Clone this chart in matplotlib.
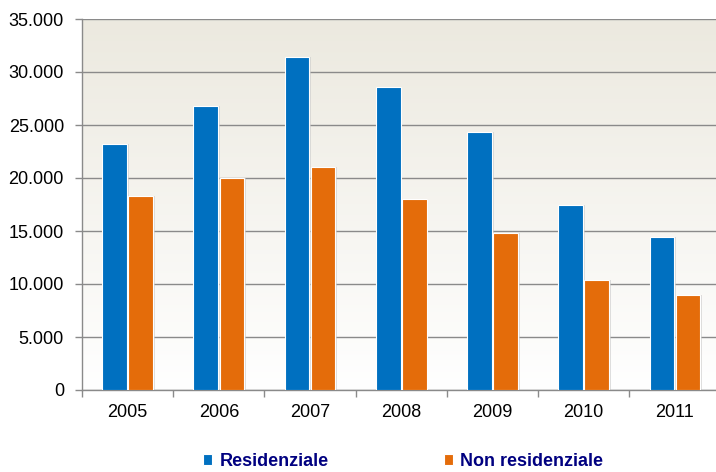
import numpy as np
import matplotlib
matplotlib.use("Agg")
import matplotlib.pyplot as plt
from matplotlib.ticker import FuncFormatter

plt.rcParams['font.family'] = ['Liberation Sans', 'DejaVu Sans']

# dati
anni = ['2005', '2006', '2007', '2008', '2009', '2010', '2011']
residenziale = [23200, 26800, 31400, 28600, 24300, 17500, 14400]
non_residenziale = [18300, 20000, 21000, 18000, 14800, 10400, 9000]

blu = '#0070C0'
arancio = '#E46C0A'

fig = plt.figure(figsize=(7.16, 4.72), dpi=100)
ax = fig.add_axes([82 / 716, 1 - 390 / 472, 1 - 82 / 716, (390 - 19) / 472])

x = np.arange(len(anni))
w = 0.27
off = 0.143

# sfondo sfumato (alto beige -> basso bianco)
grad = np.linspace(0, 1, 256).reshape(-1, 1)
top = np.array([0.925, 0.914, 0.875])
bot = np.array([1.0, 1.0, 1.0])
img = top[None, None, :] * (1 - grad[:, :, None]) + bot[None, None, :] * grad[:, :, None]
ax.imshow(img, extent=[-0.5, 6.45, 0, 35000], origin='upper', aspect='auto', zorder=0)

ax.set_yticks(np.arange(0, 35001, 5000))
ax.yaxis.grid(True, color='#8a8a8a', linewidth=1.0, zorder=1)
ax.set_axisbelow(True)

# ombre
ax.bar(x - off + 0.02, residenziale, w, color='#c8c8c8', alpha=0.6, zorder=2)
ax.bar(x + off + 0.02, non_residenziale, w, color='#c8c8c8', alpha=0.6, zorder=2)
ax.bar(x - off, residenziale, w, color=blu, edgecolor='white', linewidth=0.8, zorder=3,
       label='Residenziale')
ax.bar(x + off, non_residenziale, w, color=arancio, edgecolor='white', linewidth=0.8, zorder=3,
       label='Non residenziale')

ax.set_xlim(-0.5, 6.45)
ax.set_ylim(0, 35000)
ax.set_xticks(x)
ax.set_xticklabels(anni)
ax.set_xticks(np.arange(-0.5, 6.5, 1), minor=True)
ax.tick_params(axis='x', which='major', length=0, labelsize=13, pad=10)
ax.tick_params(axis='x', which='minor', length=5, color='#8a8a8a', width=1)
ax.tick_params(axis='y', length=5, color='#8a8a8a', width=1, labelsize=13, pad=8)
ax.yaxis.set_major_formatter(FuncFormatter(lambda v, p: f'{int(v):,}'.replace(',', '.')))

for s in ['top', 'right']:
    ax.spines[s].set_visible(False)
for s in ['left', 'bottom']:
    ax.spines[s].set_color('#8a8a8a')
    ax.spines[s].set_linewidth(1.0)

leg = fig.legend(loc='lower center', bbox_to_anchor=(0.563, -0.03), ncol=2, frameon=False,
                 handlelength=0.5, handleheight=0.5, handletextpad=0.4, columnspacing=6.4,
                 prop={'weight': 'bold', 'size': 13})
for t in leg.get_texts():
    t.set_color('#000080')

fig.savefig('out.png', dpi=100)
